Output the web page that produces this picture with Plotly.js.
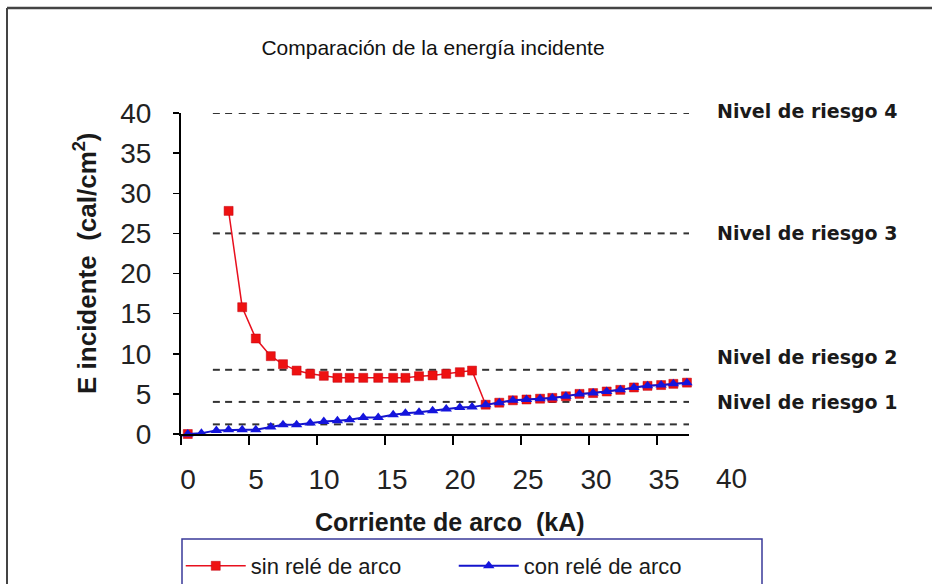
<!DOCTYPE html>
<html>
<head>
<meta charset="utf-8">
<script src="https://cdn.plot.ly/plotly-3.0.1.min.js"></script>
<style>html,body{margin:0;padding:0;background:#fff;}#chart{width:932px;height:584px;}</style>
</head>
<body>
<div id="chart"></div>
<script>
// Corriente de arco (kA)
const corriente = [0.5, 1.5, 2.6, 3.5, 4.5, 5.5, 6.6, 7.5, 8.5, 9.5, 10.5, 11.5, 12.4, 13.4, 14.5, 15.6, 16.5, 17.5, 18.5, 19.5, 20.5, 21.4, 22.4, 23.4, 24.4, 25.4, 26.4, 27.3, 28.3, 29.3, 30.3, 31.3, 32.3, 33.3, 34.3, 35.3, 36.2, 37.2];
// E incidente (cal/cm2) sin relé de arco
const sinRele = [0, null, null, 27.8, 15.8, 11.9, 9.7, 8.7, 7.9, 7.5, 7.25, 7.0, 7.0, 7.0, 7.0, 7.0, 7.0, 7.2, 7.3, 7.5, 7.7, 7.9, 3.65, 3.9, 4.2, 4.3, 4.4, 4.5, 4.7, 5.0, 5.1, 5.3, 5.5, 5.8, 6.0, 6.1, 6.25, 6.4];
// E incidente (cal/cm2) con relé de arco
const conRele = [0, 0.1, 0.45, 0.53, 0.53, 0.53, 0.87, 1.15, 1.15, 1.37, 1.57, 1.65, 1.78, 2.05, 2.05, 2.4, 2.6, 2.7, 2.9, 3.1, 3.3, 3.35, 3.65, 3.9, 4.2, 4.3, 4.4, 4.5, 4.7, 5.0, 5.1, 5.3, 5.5, 5.8, 6.0, 6.1, 6.25, 6.4];
// Niveles de riesgo (cal/cm2)
const nivelesRiesgo = [1.2, 4, 8, 25, 40];
const etiquetasRiesgo = ["", "Nivel de riesgo 1", "Nivel de riesgo 2", "Nivel de riesgo 3", "Nivel de riesgo 4"];
const xTicks = [0, 5, 10, 15, 20, 25, 30, 35];
const xTickExtra = 40;
const yTicks = [0, 5, 10, 15, 20, 25, 30, 35, 40];

const FONT = "Liberation Sans, Arial, sans-serif";
const xRange = [0, 37.35];
const yRange = [0, 40];

const xRiesgo = corriente.slice(2);
const traces = [];
nivelesRiesgo.forEach(function (lvl) {
  traces.push({
    x: xRiesgo,
    y: xRiesgo.map(function () { return lvl; }),
    mode: 'markers',
    type: 'scatter',
    showlegend: false,
    hoverinfo: 'skip',
    marker: { symbol: 'line-ew', size: 5, line: { width: 2, color: '#333' } }
  });
});
traces.push({
  x: corriente, y: sinRele, name: 'sin relé de arco', type: 'scatter', mode: 'lines+markers',
  connectgaps: false, cliponaxis: false,
  line: { color: '#E8101E', width: 1.5 },
  marker: { symbol: 'square', size: 9, color: '#EE1111', line: { color: '#C00010', width: 0.5 } }
});
traces.push({
  x: corriente, y: conRele, name: 'con relé de arco', type: 'scatter', mode: 'lines+markers',
  cliponaxis: false,
  line: { color: '#1414CC', width: 2 },
  marker: { symbol: 'triangle-up', size: 10, color: '#1414DD' }
});

const M = { l: 181, r: 243, t: 113, b: 150 };
const W = 932, H = 584;
const pw = W - M.l - M.r, ph = H - M.t - M.b;
function px2x(px) { return (px - M.l) / pw; }
function py2y(py) { return (H - M.b - py) / ph; }

const annotations = [];
etiquetasRiesgo.forEach(function (t, i) {
  if (!t) return;
  annotations.push({
    text: '<b>' + t + '</b>', xref: 'paper', yref: 'y', x: px2x(715), y: nivelesRiesgo[i],
    xanchor: 'left', yanchor: 'middle', showarrow: false,
    yshift: (i === 2 ? 13 : (i === 4 ? 2 : 0)),
    font: { family: 'DejaVu Sans, Verdana, sans-serif', size: 19, color: '#1a1a1a' }
  });
});
// "40" tick label beyond the plotted range
annotations.push({
  text: String(xTickExtra), xref: 'paper', yref: 'paper',
  x: (xTickExtra - xRange[0]) / (xRange[1] - xRange[0]), y: py2y(479),
  xanchor: 'center', yanchor: 'middle', xshift: 6, showarrow: false,
  font: { family: FONT, size: 28, color: '#222' }
});
// Axis titles
annotations.push({
  text: '<b>Corriente de arco\u00A0 (kA)</b>', xref: 'paper', yref: 'paper',
  x: px2x(313), y: py2y(522), xanchor: 'left', yanchor: 'middle', showarrow: false,
  font: { family: FONT, size: 25, color: '#1a1a1a' }
});
annotations.push({
  text: '<b>E incidente\u00A0 (cal/cm<sup>2</sup>)</b>', xref: 'paper', yref: 'paper',
  x: px2x(85), y: py2y(263), xanchor: 'center', yanchor: 'middle', textangle: -90, showarrow: false,
  font: { family: FONT, size: 26, color: '#1a1a1a' }
});

const shapes = [
  // outer frame (top and left)
  { type: 'line', xref: 'paper', yref: 'paper', x0: px2x(7), x1: px2x(940), y0: py2y(8), y1: py2y(8), line: { color: '#444', width: 2.5 } },
  { type: 'line', xref: 'paper', yref: 'paper', x0: px2x(7), x1: px2x(7), y0: py2y(8), y1: py2y(600), line: { color: '#444', width: 2 } },
  // legend frame
  { type: 'rect', xref: 'paper', yref: 'paper', x0: px2x(182), x1: px2x(762), y0: py2y(539), y1: py2y(610), line: { color: '#3a3a99', width: 1.5 } }
];

const layout = {
  width: W, height: H,
  margin: { l: M.l, r: M.r, t: M.t, b: M.b, pad: 0, autoexpand: false },
  paper_bgcolor: '#fff', plot_bgcolor: '#fff',
  title: {
    text: 'Comparación de la energía incidente', xref: 'paper', x: px2x(433), yref: 'container', y: 1 - 48 / H,
    xanchor: 'center', yanchor: 'middle',
    font: { family: FONT, size: 21, color: '#111' }
  },
  xaxis: {
    range: xRange, tickvals: xTicks, ticktext: xTicks.map(String), ticks: 'outside', ticklen: 9, tickwidth: 1.5, tickcolor: '#000',
    showline: true, linecolor: '#000', linewidth: 2, showgrid: false, zeroline: false,
    tickfont: { family: FONT, size: 28, color: '#222' }, ticklabelshift: 7, ticklabelstandoff: 10
  },
  yaxis: {
    range: yRange, tickvals: yTicks, ticktext: yTicks.map(String), ticks: 'outside', ticklen: 6, tickwidth: 1.5, tickcolor: '#000',
    showline: true, linecolor: '#000', linewidth: 2, showgrid: false, zeroline: false,
    tickfont: { family: FONT, size: 28, color: '#222' }, ticklabelstandoff: 16
  },
  showlegend: true,
  legend: {
    orientation: 'h', x: -0.0005, xanchor: 'left', y: py2y(545), yanchor: 'top',
    entrywidth: 198, entrywidthmode: 'pixels', itemwidth: 60, bgcolor: 'rgba(0,0,0,0)', borderwidth: 0,
    font: { family: FONT, size: 22, color: '#1a1a1a' }, tracegroupgap: 0
  },
  annotations: annotations,
  shapes: shapes
};

Plotly.newPlot('chart', traces, layout, { displayModeBar: false, staticPlot: true });
</script>
</body>
</html>
